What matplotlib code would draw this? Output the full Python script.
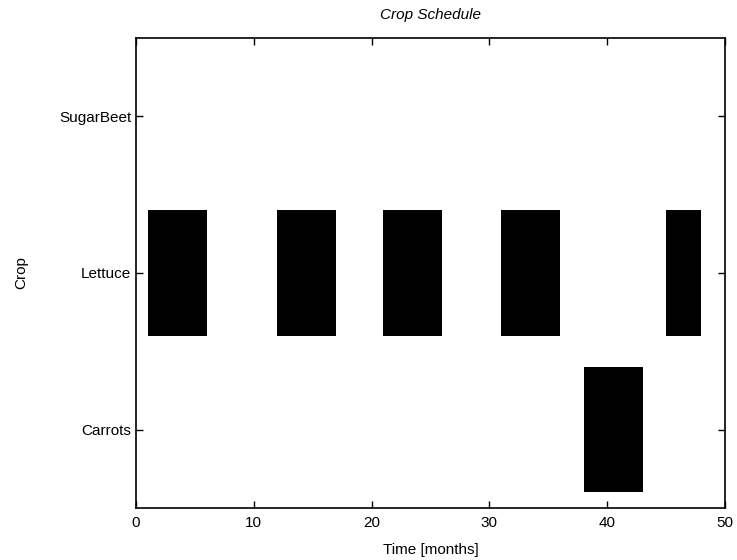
import matplotlib.pyplot as plt

plt.rcParams['font.family'] = ['Liberation Sans', 'DejaVu Sans']

# crop schedule data
crops = ['Carrots', 'Lettuce', 'SugarBeet']
task_crop = ['Lettuce', 'Lettuce', 'Lettuce', 'Lettuce', 'Lettuce', 'Carrots']
task_start = [1, 12, 21, 31, 45, 38]
task_end = [6, 17, 26, 36, 48, 43]
x_ticks = [0, 10, 20, 30, 40, 50]

fig = plt.figure(figsize=(7.37, 5.6), dpi=100)
ax = fig.add_axes([0.1845, 0.0929, 0.7992, 0.8393])

for c, s, e in zip(task_crop, task_start, task_end):
    y = crops.index(c) + 1
    ax.barh(y, e - s, left=s, height=0.8, color='black')

ax.set_xlim(0, 50)
ax.set_ylim(0.5, 3.5)
ax.set_xticks(x_ticks)
ax.set_yticks(range(1, len(crops) + 1))
ax.set_yticklabels(crops)
ax.tick_params(direction='in', top=True, right=True, length=5, labelsize=11, width=1)
ax.tick_params(axis='x', pad=6)
for sp in ax.spines.values():
    sp.set_linewidth(1.2)

ax.set_title('Crop Schedule', fontsize=11, style='italic', pad=14)
ax.set_xlabel('Time [months]', fontsize=11, labelpad=9)
ax.set_ylabel('Crop', fontsize=11, labelpad=22)

plt.savefig('out.png', dpi=100)
